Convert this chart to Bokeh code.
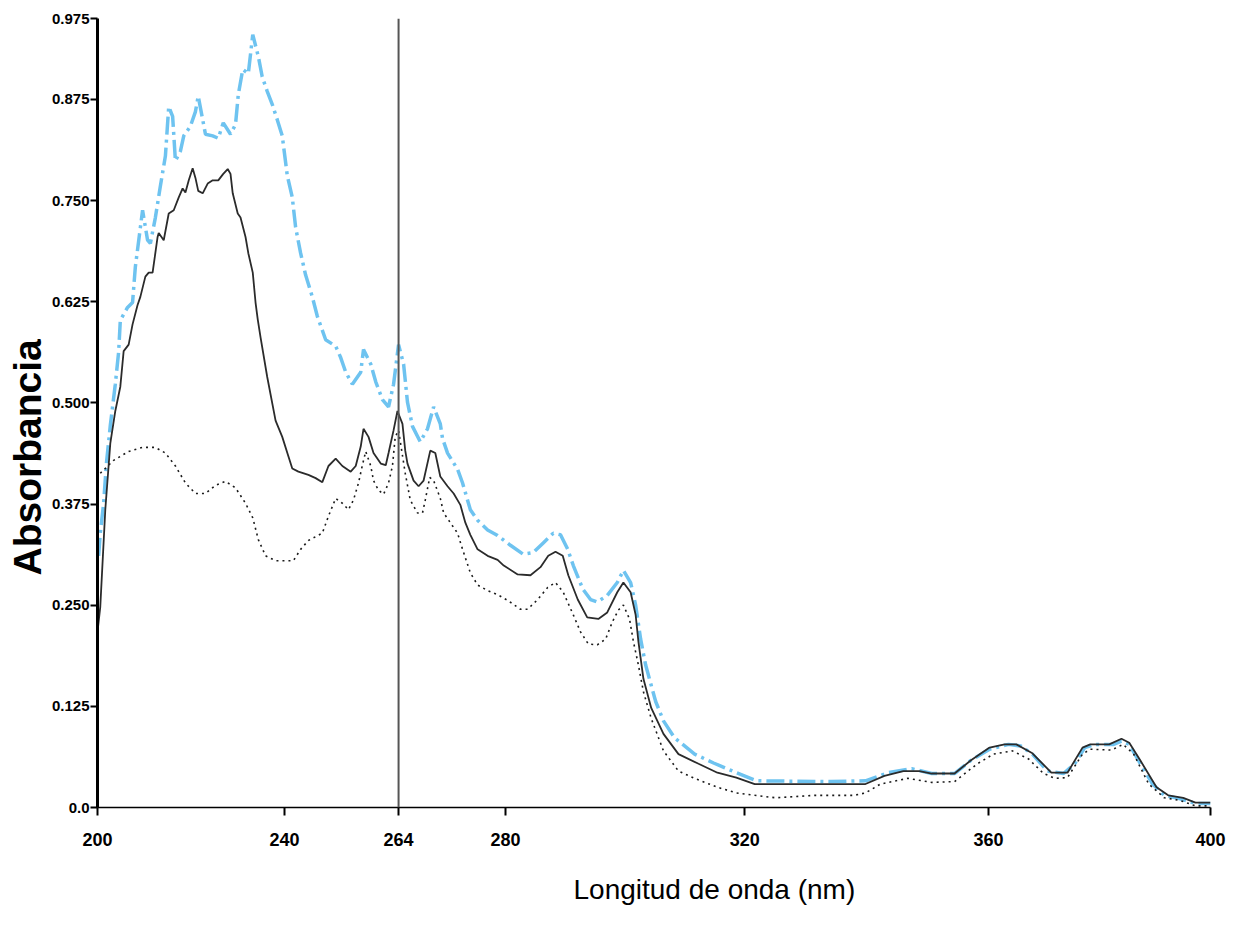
from bokeh.plotting import figure
from bokeh.models import FixedTicker, Span, Range1d, Title
from bokeh.embed import file_html
from bokeh.resources import INLINE

# ---- axis ticks -------------------------------------------------------
xtick_values = [200, 233.6, 254.1, 273.3, 316.3, 360.1, 400]
xtick_labels = ["200", "240", "264", "280", "320", "360", "400"]
ytick_values = [0, 0.125, 0.25, 0.375, 0.5, 0.625, 0.75, 0.875, 0.975]
ytick_labels = ["0.0", "0.125", "0.250", "0.375", "0.500", "0.625", "0.750", "0.875", "0.975"]
ref_line_x = 254.1

# ---- series: blue dash-dot -------------------------------------------
blue_x = [200.2, 200.5, 201.1, 201.6, 202.3, 203.2, 203.8, 204.1, 205.4, 206.3, 206.8, 208.1,
          209.0, 209.5, 210.4, 211.3, 212.2, 212.8, 213.5, 214.0, 214.9, 215.5, 216.7, 217.6,
          218.1, 219.4, 220.7, 221.7, 222.6, 223.9, 224.8, 225.3, 226.1, 227.1, 227.9, 228.9,
          229.6, 230.5, 231.4, 232.3, 233.2, 234.1, 235.0, 235.6, 236.5, 237.4, 238.6, 239.5,
          241.0, 242.8, 243.7, 244.6, 245.8, 247.3, 247.8, 249.1, 250.0, 251.2, 252.3, 253.2,
          254.1, 255.0, 255.7, 256.6, 258.0, 259.3, 260.4, 261.6, 262.0, 262.9, 264.7, 265.6,
          267.0, 268.3, 270.1, 271.9, 274.2, 276.5, 278.3, 280.1, 281.9, 283.2, 284.5, 285.5,
          287.2, 288.6, 289.8, 291.6, 293.4, 294.5, 295.8, 296.7, 297.6, 298.5, 300.3, 301.7,
          303.7, 307.3, 310.7, 314.8, 318.4, 331.7, 338.0, 342.1, 346.3, 349.9, 354.0, 356.9,
          360.3, 363.7, 365.9, 368.0, 370.7, 373.6, 375.6, 377.4, 379.2, 382.6, 384.0, 385.4,
          387.4, 389.6, 391.7, 394.4, 397.3, 400.0]
blue_y = [0.311, 0.339, 0.376, 0.425, 0.472, 0.523, 0.563, 0.602, 0.618, 0.624, 0.668, 0.738,
          0.701, 0.697, 0.729, 0.768, 0.805, 0.866, 0.854, 0.799, 0.811, 0.830, 0.842, 0.860,
          0.879, 0.832, 0.830, 0.827, 0.846, 0.832, 0.844, 0.881, 0.912, 0.907, 0.955, 0.928,
          0.903, 0.885, 0.869, 0.850, 0.830, 0.781, 0.754, 0.717, 0.685, 0.658, 0.631, 0.607,
          0.578, 0.570, 0.556, 0.538, 0.523, 0.538, 0.566, 0.548, 0.526, 0.504, 0.495, 0.523,
          0.572, 0.548, 0.501, 0.471, 0.452, 0.468, 0.495, 0.474, 0.456, 0.438, 0.418, 0.401,
          0.368, 0.355, 0.343, 0.336, 0.324, 0.313, 0.315, 0.327, 0.339, 0.337, 0.319, 0.299,
          0.270, 0.257, 0.254, 0.262, 0.278, 0.293, 0.278, 0.250, 0.208, 0.176, 0.131, 0.107,
          0.086, 0.066, 0.055, 0.043, 0.033, 0.032, 0.033, 0.043, 0.048, 0.042, 0.042, 0.058,
          0.072, 0.078, 0.076, 0.066, 0.045, 0.042, 0.054, 0.074, 0.078, 0.078, 0.082, 0.078,
          0.054, 0.029, 0.015, 0.011, 0.005, 0.005]

# ---- series: black solid ---------------------------------------------
solid_x = [200.0, 200.5, 201.4, 202.3, 203.2, 204.1, 204.7, 205.6, 206.3, 207.2, 207.7, 208.6,
           209.2, 209.9, 210.8, 211.0, 211.9, 212.8, 213.7, 214.6, 215.3, 215.8, 216.4, 217.1,
           217.6, 218.1, 218.9, 219.8, 220.7, 221.7, 222.6, 223.4, 223.9, 224.3, 225.2, 225.7,
           226.6, 227.1, 227.9, 228.4, 228.8, 229.3, 230.5, 232.0, 233.2, 234.3, 235.0, 236.1,
           237.9, 239.2, 240.4, 241.5, 242.8, 244.0, 245.5, 246.4, 247.3, 247.8, 248.7, 249.6,
           250.9, 251.8, 252.3, 253.2, 253.9, 254.8, 255.3, 255.7, 256.8, 257.7, 258.6, 259.8,
           260.7, 261.6, 262.9, 264.0, 265.2, 266.1, 267.0, 268.3, 270.1, 271.9, 273.0, 275.5,
           277.8, 279.6, 281.0, 282.3, 283.6, 284.6, 286.3, 288.0, 290.0, 291.6, 293.4, 294.5,
           295.8, 296.7, 297.2, 298.1, 299.5, 301.7, 304.4, 308.0, 311.4, 314.8, 318.1, 338.0,
           341.4, 344.8, 347.7, 349.9, 354.0, 356.9, 360.3, 363.0, 365.1, 368.0, 371.4, 374.3,
           377.0, 378.4, 381.8, 384.0, 385.4, 387.4, 390.3, 392.4, 395.1, 397.3, 400.0]
solid_y = [0.217, 0.248, 0.368, 0.450, 0.490, 0.520, 0.564, 0.572, 0.597, 0.621, 0.631, 0.656,
           0.661, 0.661, 0.705, 0.710, 0.701, 0.734, 0.738, 0.754, 0.765, 0.760, 0.775, 0.790,
           0.778, 0.762, 0.759, 0.771, 0.775, 0.775, 0.783, 0.789, 0.783, 0.759, 0.734, 0.729,
           0.705, 0.685, 0.661, 0.624, 0.603, 0.581, 0.532, 0.478, 0.458, 0.434, 0.419, 0.415,
           0.411, 0.407, 0.402, 0.422, 0.431, 0.422, 0.415, 0.422, 0.446, 0.468, 0.458, 0.438,
           0.425, 0.423, 0.438, 0.466, 0.490, 0.474, 0.441, 0.425, 0.404, 0.397, 0.404, 0.441,
           0.438, 0.409, 0.397, 0.388, 0.374, 0.352, 0.337, 0.319, 0.311, 0.306, 0.299, 0.288,
           0.287, 0.297, 0.311, 0.316, 0.311, 0.287, 0.257, 0.235, 0.233, 0.241, 0.266, 0.278,
           0.266, 0.238, 0.205, 0.159, 0.123, 0.091, 0.066, 0.054, 0.043, 0.037, 0.029, 0.029,
           0.039, 0.045, 0.045, 0.042, 0.042, 0.058, 0.074, 0.078, 0.078, 0.067, 0.043, 0.043,
           0.074, 0.078, 0.078, 0.085, 0.080, 0.058, 0.025, 0.015, 0.012, 0.006, 0.006]

# ---- series: black dotted --------------------------------------------
dot_x = [200.5, 201.1, 202.9, 205.6, 208.1, 210.4, 212.2, 214.0, 215.8, 217.6, 219.4, 221.2,
         223.0, 224.8, 226.6, 227.9, 228.9, 230.2, 232.0, 235.2, 236.5, 237.9, 240.4, 241.5,
         242.8, 244.0, 245.1, 246.0, 246.9, 247.6, 248.2, 249.1, 249.6, 250.5, 251.4, 252.3,
         253.0, 253.5, 254.1, 255.3, 256.2, 257.5, 258.4, 258.9, 259.7, 260.4, 261.6, 262.2,
         263.4, 264.7, 265.6, 267.0, 268.3, 270.1, 271.9, 273.7, 276.0, 277.3, 279.1, 280.9,
         282.3, 283.7, 285.5, 286.8, 288.2, 289.8, 291.3, 292.5, 293.6, 294.5, 295.6, 296.3,
         297.2, 298.1, 299.5, 301.7, 304.4, 307.3, 311.4, 314.8, 321.8, 328.8, 335.9, 338.0,
         340.7, 345.6, 349.9, 354.0, 358.1, 361.0, 364.4, 367.3, 370.0, 372.1, 374.3, 377.0,
         378.4, 382.2, 384.3, 386.2, 388.9, 391.7, 394.4, 397.3, 400.0]
dot_y = [0.413, 0.417, 0.429, 0.440, 0.445, 0.445, 0.438, 0.422, 0.401, 0.388, 0.388, 0.398,
         0.403, 0.395, 0.376, 0.358, 0.331, 0.311, 0.305, 0.305, 0.319, 0.330, 0.339, 0.360,
         0.382, 0.376, 0.368, 0.380, 0.401, 0.423, 0.440, 0.422, 0.404, 0.392, 0.387, 0.401,
         0.422, 0.458, 0.466, 0.413, 0.380, 0.364, 0.364, 0.380, 0.408, 0.404, 0.382, 0.364,
         0.352, 0.339, 0.319, 0.290, 0.275, 0.268, 0.263, 0.256, 0.245, 0.245, 0.257, 0.272,
         0.278, 0.266, 0.238, 0.217, 0.202, 0.201, 0.208, 0.229, 0.244, 0.250, 0.233, 0.205,
         0.176, 0.143, 0.110, 0.070, 0.045, 0.036, 0.025, 0.018, 0.012, 0.015, 0.015, 0.018,
         0.029, 0.036, 0.031, 0.032, 0.054, 0.066, 0.070, 0.060, 0.042, 0.036, 0.037, 0.066,
         0.072, 0.071, 0.078, 0.066, 0.029, 0.012, 0.009, 0.002, 0.002]

# ---- figure ------------------------------------------------------------
p = figure(width=1230, height=932, output_backend="svg", toolbar_location=None,
           x_range=Range1d(200, 400), y_range=Range1d(0, 0.975),
           min_border_left=97, min_border_right=20, min_border_top=18, min_border_bottom=125)
p.title.visible = False
p.xgrid.visible = False
p.ygrid.visible = False
p.outline_line_color = None
p.background_fill_color = "white"
p.border_fill_color = "white"

p.line(blue_x, blue_y, line_color="#6EC3F0", line_width=3.5, line_dash="18 5 3 5")
p.line(dot_x, dot_y, line_color="#1a1a1a", line_width=1.6, line_dash="2 4")
p.line(solid_x, solid_y, line_color="#2b2b2b", line_width=1.8)

p.add_layout(Span(location=ref_line_x, dimension="height", line_color="#555555", line_width=2))

FONT = "Liberation Sans"

p.xaxis.ticker = FixedTicker(ticks=xtick_values)
p.xaxis.major_label_overrides = dict(zip(xtick_values, xtick_labels))
p.xaxis.minor_tick_line_color = None
p.xaxis.axis_line_width = 1.5
p.xaxis.axis_line_color = "black"
p.xaxis.major_tick_line_width = 2
p.xaxis.major_tick_out = 8
p.xaxis.major_tick_in = 0
p.xaxis.major_label_standoff = 17
p.xaxis.major_label_text_font = FONT
p.xaxis.major_label_text_font_style = "bold"
p.xaxis.major_label_text_font_size = "18px"
p.xaxis.major_label_text_color = "black"

p.yaxis.ticker = FixedTicker(ticks=ytick_values)
p.yaxis.major_label_overrides = dict(zip(ytick_values, ytick_labels))
p.yaxis.minor_tick_line_color = None
p.yaxis.axis_line_width = 3
p.yaxis.axis_line_color = "black"
p.yaxis.major_tick_line_width = 2
p.yaxis.major_tick_out = 7
p.yaxis.major_tick_in = 0
p.yaxis.major_label_standoff = 1
p.yaxis.major_label_text_font = FONT
p.yaxis.major_label_text_font_style = "bold"
p.yaxis.major_label_text_font_size = "15px"
p.yaxis.major_label_text_baseline = "bottom"
p.yaxis.major_label_text_color = "black"

p.add_layout(Title(text="Longitud de onda (nm)", align="left", offset=476, standoff=46,
                   vertical_align="bottom", text_font=FONT, text_font_style="normal",
                   text_font_size="28px", text_color="black"), "below")
p.add_layout(Title(text="Absorbancia", align="left", offset=232, standoff=0,
                   text_font=FONT, text_font_style="bold",
                   text_font_size="39px", text_color="black"), "left")

open("out.html", "w").write(file_html(p, INLINE))
